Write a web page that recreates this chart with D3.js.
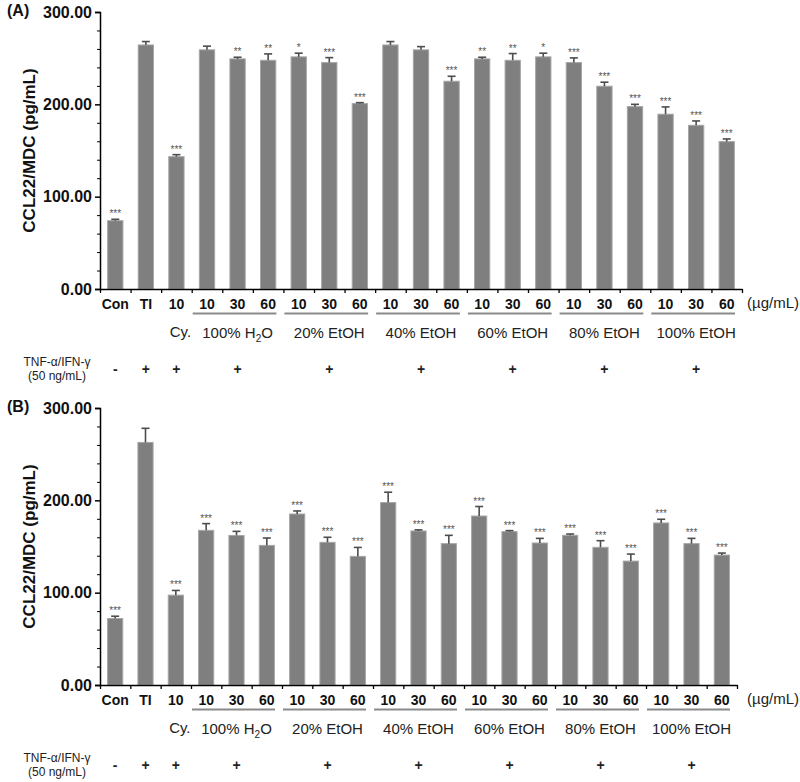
<!DOCTYPE html>
<html>
<head>
<meta charset="utf-8">
<script src="https://cdn.jsdelivr.net/npm/d3@7"></script>
<style>
  body { margin: 0; background: #fff; }
  svg { display: block; font-family: "Liberation Sans", Arial, sans-serif; }
</style>
</head>
<body>
<svg id="chart" width="800" height="782"></svg>
<script>
// ---------------- data ----------------
const categories = ["Con","TI","10","10","30","60","10","30","60","10","30","60","10","30","60","10","30","60","10","30","60"];
const groupLabels = ["100% H2O","20% EtOH","40% EtOH","60% EtOH","80% EtOH","100% EtOH"];
const groupStart = [3, 6, 9, 12, 15, 18];
const groupEnd   = [5, 8, 11, 14, 17, 20];
const yTicks = [0, 100, 200, 300];
const treatmentSigns = ["-", "+", "+", "+", "+", "+", "+", "+", "+"];

const valuesA = [74, 264.3, 143.3, 259, 249.2, 247.7, 251.4, 245.2, 200.8, 264.3, 259, 225, 249.2, 247.7, 251.4, 245.2, 219.6, 197.5, 189.3, 177.3, 159.6];
const errorsA = [1.5, 3.7, 2.2, 4, 1.8, 6.9, 4, 5.4, 1, 3.7, 3.5, 5.4, 1.8, 7.3, 4, 5.1, 4.4, 2.5, 7.9, 4.7, 2.9];
const starsA  = ["***","","***","","**","**","*","***","***","","","***","**","**","*","***","***","***","***","***","***"];

const valuesB = [72, 262.7, 97.3, 167.5, 162, 151.2, 185.2, 154.5, 139.3, 197.6, 166.8, 153.1, 183, 166.1, 153.8, 162.1, 149.1, 134.2, 175.5, 153.1, 140.7];
const errorsB = [2.5, 15.3, 5.1, 7.3, 4.4, 8, 3.3, 5.5, 9.7, 11.2, 1.2, 9, 10.3, 1.1, 5, 1.4, 7.2, 7.6, 4, 5.7, 2.2];
const starsB  = ["***","","***","***","***","***","***","***","***","***","***","***","***","***","***","***","***","***","***","***","***"];

// ---------------- drawing ----------------
const svg = d3.select("#chart");

function drawPanel(dy, xRight, values, errors, stars, panelLabel) {
  const g = svg.append("g").attr("transform", `translate(0,${dy})`);
  const x0 = 100, yBottom = 289, yTop = 12;
  const n = categories.length;
  const x = d3.scaleBand().domain(d3.range(n)).range([x0, xRight]).paddingInner(0.5).paddingOuter(0.25);
  const xb = d3.scaleLinear().domain([0, n]).range([x0, xRight]);
  const y = d3.scaleLinear().domain([0, 300]).range([yBottom, yTop]);

  // bars
  g.selectAll("rect.bar").data(values).join("rect")
    .attr("class", "bar")
    .attr("x", (d, i) => x(i))
    .attr("width", x.bandwidth())
    .attr("y", d => y(d))
    .attr("height", d => y(0) - y(d))
    .attr("fill", "#7f7f7f")
    .attr("stroke", "#a6a6a6")
    .attr("stroke-width", 1);

  // error bars (upper only)
  const eg = g.append("g").attr("stroke", "#4d4d4d").attr("stroke-width", 1.6);
  values.forEach((v, i) => {
    const cx = x(i) + x.bandwidth() / 2;
    eg.append("line").attr("x1", cx).attr("x2", cx).attr("y1", y(v)).attr("y2", y(v + errors[i]));
    eg.append("line").attr("x1", cx - 4).attr("x2", cx + 4).attr("y1", y(v + errors[i])).attr("y2", y(v + errors[i]));
  });

  // significance stars
  g.selectAll("text.star").data(stars).join("text")
    .attr("class", "star")
    .attr("x", (d, i) => x(i) + x.bandwidth() / 2)
    .attr("y", (d, i) => y(values[i] + errors[i]) - 2)
    .attr("text-anchor", "middle")
    .attr("font-size", 10)
    .attr("fill", "#555")
    .text(d => d);

  // y axis (major)
  const yAxis = g.append("g").attr("transform", `translate(${x0},0)`)
    .call(d3.axisLeft(y).tickValues(yTicks).tickFormat(d3.format(".2f")).tickSize(5).tickPadding(3));
  yAxis.selectAll("text").attr("font-size", 16).attr("font-weight", "bold").attr("fill", "#111")
    .attr("font-family", "'Liberation Sans', Arial, sans-serif");
  yAxis.select(".domain").attr("stroke-width", 1.5);
  yAxis.selectAll(".tick line").attr("stroke-width", 1.5);
  // minor ticks
  g.append("g").attr("transform", `translate(${x0},0)`)
    .call(d3.axisLeft(y).tickValues(d3.range(20, 300, 20).filter(v => v % 100 !== 0)).tickSize(3).tickFormat(""))
    .call(s => s.select(".domain").remove());

  // x axis boundary ticks
  const xAxis = g.append("g").attr("transform", `translate(0,${yBottom})`)
    .call(d3.axisBottom(xb).tickValues(d3.range(0, n + 1)).tickSize(4).tickSizeOuter(0).tickFormat(""));
  xAxis.select(".domain").attr("stroke-width", 1.5);
  xAxis.selectAll(".tick line").attr("stroke-width", 1.3);

  // x labels
  const xl = g.append("g").attr("transform", `translate(0,${yBottom})`)
    .call(d3.axisBottom(x).tickSize(0).tickPadding(10).tickFormat(i => categories[i]));
  xl.select(".domain").remove();
  xl.selectAll("text").attr("font-size", 14).attr("font-weight", "bold").attr("fill", "#111")
    .attr("font-family", "'Liberation Sans', Arial, sans-serif");

  // unit label
  g.append("text").attr("x", 747).attr("y", yBottom + 19).attr("font-size", 15).attr("fill", "#222")
    .text("(\u00b5g/mL)");

  // group underlines and labels
  groupLabels.forEach((lab, k) => {
    const a = x(groupStart[k]) - x.step() * 0.25 + 1;
    const b = x(groupEnd[k]) + x.bandwidth() + x.step() * 0.25 - 7;
    g.append("line").attr("x1", a).attr("x2", b).attr("y1", yBottom + 24.5).attr("y2", yBottom + 24.5)
      .attr("stroke", "#8a8a8a").attr("stroke-width", 1.8);
    const cx = (x(groupStart[k]) + x(groupEnd[k]) + x.bandwidth()) / 2;
    const t = g.append("text").attr("x", cx).attr("y", yBottom + 49).attr("text-anchor", "middle")
      .attr("font-size", 15).attr("fill", "#222");
    if (lab === "100% H2O") {
      t.append("tspan").text("100% H");
      t.append("tspan").attr("font-size", 10).attr("dy", 4).text("2");
      t.append("tspan").attr("dy", -4).text("O");
    } else {
      t.text(lab);
    }
  });
  // Cy. label
  g.append("text").attr("x", x(2) + x.bandwidth() / 2 + 4).attr("y", yBottom + 48)
    .attr("text-anchor", "middle").attr("font-size", 15).attr("fill", "#222").text("Cy.");

  // treatment row
  g.append("text").attr("x", 57).attr("y", yBottom + 77).attr("text-anchor", "middle")
    .attr("font-size", 12).attr("fill", "#222").text("TNF-\u03b1/IFN-\u03b3");
  g.append("text").attr("x", 57).attr("y", yBottom + 91).attr("text-anchor", "middle")
    .attr("font-size", 12).attr("fill", "#222").text("(50 ng/mL)");
  const signX = [0, 1, 2].map(i => x(i) + x.bandwidth() / 2)
    .concat(groupStart.map((s, k) => (x(s) + x(groupEnd[k]) + x.bandwidth()) / 2));
  treatmentSigns.forEach((s, k) => {
    g.append("text").attr("x", signX[k]).attr("y", yBottom + 85).attr("text-anchor", "middle")
      .attr("font-size", 14).attr("font-weight", "bold").attr("fill", "#222").text(s);
  });

  // y title
  g.append("text").attr("transform", `translate(35,${(yTop + yBottom) / 2}) rotate(-90)`)
    .attr("text-anchor", "middle").attr("font-size", 17).attr("font-weight", "bold").attr("fill", "#111")
    .text("CCL22/MDC (pg/mL)");

  // panel label
  g.append("text").attr("x", 7).attr("y", 16).attr("font-size", 16).attr("font-weight", "bold")
    .attr("fill", "#111").text(panelLabel);
}

drawPanel(0, 742, valuesA, errorsA, starsA, "(A)");
drawPanel(396, 737, valuesB, errorsB, starsB, "(B)");
</script>
</body>
</html>
